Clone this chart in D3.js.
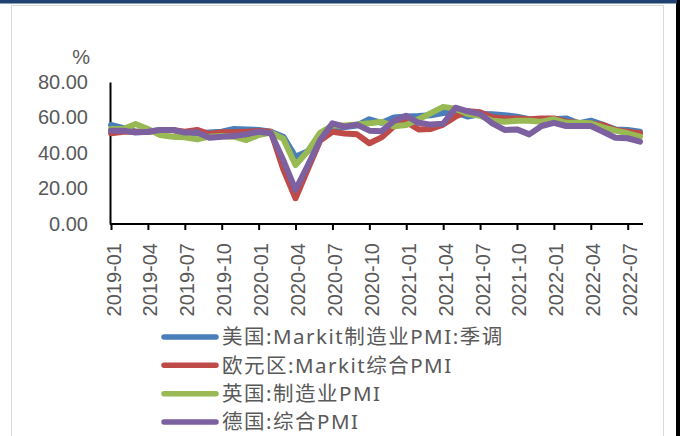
<!DOCTYPE html>
<html><head><meta charset="utf-8">
<script src="https://cdn.jsdelivr.net/npm/d3@7"></script>
<style>html,body{margin:0;padding:0;background:#000;}svg{display:block;}</style>
</head><body>
<script>
const months = ["2019-01","2019-02","2019-03","2019-04","2019-05","2019-06","2019-07","2019-08","2019-09","2019-10","2019-11","2019-12",
"2020-01","2020-02","2020-03","2020-04","2020-05","2020-06","2020-07","2020-08","2020-09","2020-10","2020-11","2020-12",
"2021-01","2021-02","2021-03","2021-04","2021-05","2021-06","2021-07","2021-08","2021-09","2021-10","2021-11","2021-12",
"2022-01","2022-02","2022-03","2022-04","2022-05","2022-06","2022-07","2022-08"];
const tickLabels = ["2019-01","2019-04","2019-07","2019-10","2020-01","2020-04","2020-07","2020-10","2021-01","2021-04","2021-07","2021-10","2022-01","2022-04","2022-07"];
const yTicks = [0,20,40,60,80];
const seriesNames = ["美国:Markit制造业PMI:季调","欧元区:Markit综合PMI","英国:制造业PMI","德国:综合PMI"];
const usPMI = [55.8,54,52,52,53,53,51.5,51,51.5,52,53.5,53.3,53,52,49.2,37.9,41,49.5,54.5,54.6,55.5,59,57,60,60.5,60.8,61.3,62.5,63,60.5,62,61.9,61.3,60.5,59,58.6,59,59.5,56.7,58.2,55.8,53.3,53,52];
const ezPMI = [51.1,52,52,52,52.6,53,52,53,50.7,51.7,51.7,52,52.4,52,31,14.5,31,47,52,51,50.5,45.5,48.8,55,57.5,53.3,53.5,56,60.5,63.5,62.9,60.1,59.5,59.5,59,59.5,59.5,57.6,57,56.7,55.8,53,52,51.1];
const ukPMI = [53.5,53.5,56.3,53.5,50.1,49.2,48.9,47.7,49.2,49.6,49.2,47.3,50.1,51.5,48,33.2,41,51.4,55.5,55.5,56,56.7,57.6,55,55.8,59,62.5,66,65,62,61,58.2,57.6,58.2,58.2,57.6,59,57,57,56.7,54.4,52.6,51.1,49.2];
const dePMI = [52.6,52.6,51.5,52,53,53,51.5,51.7,48.6,49.2,49.6,50.5,52,51.1,36,19.2,33,47.3,56.7,54.8,56,52.6,52.3,58,61,57,56,56.5,65.5,63.5,62,56.7,53,53.3,50.5,55.2,57,55.2,55.2,55.2,52,48.6,48.3,46.4];
const colors = ["#4a7ebb","#be4b48","#98b954","#7d60a0"];

const W = 680, H = 436;
const svg = d3.select("body").append("svg").attr("width", W).attr("height", H);
svg.append("rect").attr("width", W).attr("height", H).attr("fill", "#000");
svg.append("rect").attr("x", 0).attr("y", 0).attr("width", 676).attr("height", H).attr("fill", "#fff");
svg.append("rect").attr("x", 0).attr("y", 0).attr("width", 677).attr("height", 3.5).attr("fill", "#1f4270");
svg.append("rect").attr("x", 11.5).attr("y", 5.5).attr("width", 652).attr("height", H).attr("fill", "none").attr("stroke", "#d9d9d9").attr("stroke-width", 1);

const x = d3.scalePoint().domain(months).range([111, 640]);
const y = d3.scaleLinear().domain([0, 80]).range([224, 82]);

const txt = "#595959";
// y axis labels
const yg = svg.append("g").attr("transform", "translate(110,0)")
  .call(d3.axisLeft(y).tickValues(yTicks).tickFormat(d3.format(".2f")).tickSize(0).tickPadding(22));
yg.select(".domain").attr("stroke", "#000").attr("stroke-width", 2);
yg.selectAll("text").attr("fill", txt).style("font-family", "'Liberation Sans', Arial, sans-serif").style("font-size", "20px");

svg.append("text").attr("x", 90).attr("y", 64).attr("text-anchor", "end").attr("fill", txt)
  .style("font-family", "'Liberation Sans', Arial, sans-serif").style("font-size", "20px").text("%");

// x axis
const xg = svg.append("g").attr("transform", "translate(0,224)")
  .call(d3.axisBottom(x).tickValues(tickLabels).tickSizeOuter(0).tickSize(6).tickPadding(0));
xg.select(".domain").attr("stroke", "#000").attr("stroke-width", 2).attr("d", `M110,0H643`);
xg.selectAll(".tick line").attr("stroke", "#000").attr("stroke-width", 2);
xg.selectAll(".tick text").attr("fill", txt)
  .style("font-family", "'Liberation Sans', Arial, sans-serif").style("font-size", "20px")
  .attr("text-anchor", "end").attr("transform", "rotate(-90)").attr("x", -19).attr("y", 0).attr("dy", "0.45em");

// lines
const allSeries = [usPMI, ezPMI, ukPMI, dePMI];
const line = d3.line().x((d, i) => x(months[i])).y(d => y(d));
svg.append("g").selectAll("path").data(allSeries).join("path")
  .attr("d", line).attr("fill", "none")
  .attr("stroke", (d, i) => colors[i]).attr("stroke-width", 6)
  .attr("stroke-linejoin", "round").attr("stroke-linecap", "round");

// legend
const lg = svg.append("g");
const rowY = d3.scaleLinear().domain([0, 3]).range([337, 422]);
seriesNames.forEach((name, i) => {
  const g = lg.append("g").attr("transform", `translate(0,${rowY(i)})`);
  g.append("line").attr("x1", 164).attr("x2", 216).attr("y1", 0).attr("y2", 0)
    .attr("stroke", colors[i]).attr("stroke-width", 5.5).attr("stroke-linecap", "round");
  g.append("text").attr("x", 222).attr("y", 0).attr("dy", "0.36em").attr("fill", txt)
    .style("font-family", "'Noto Sans', 'Noto Sans CJK SC', sans-serif").style("font-size", "20.5px")
    .style("letter-spacing", "1.5px").text(name);
});
</script>
</body></html>
